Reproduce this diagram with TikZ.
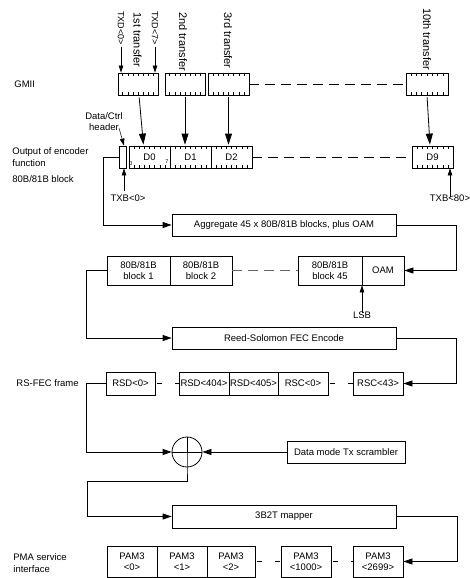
\documentclass[tikz,border=0pt]{standalone}
\usepackage{fontspec}
\setmainfont{Liberation Sans}
\usetikzlibrary{arrows.meta,calc}

\begin{document}
\begin{tikzpicture}[x=1pt,y=-1pt,line width=.8pt,
  every node/.style={font=\fontsize{9.5}{11}\selectfont,inner sep=0pt},
  box/.style={draw,align=center,minimum height=23},
  lbl/.style={anchor=west,align=left},
  vlbl/.style={rotate=-90,anchor=west},
  arr/.style={-{Triangle[length=9pt,width=6pt]}},
  sarr/.style={-{Triangle[length=7pt,width=4.5pt]}},
  darr/.style={-{Triangle[length=11pt,width=7pt]},shorten <=2pt,shorten >=1pt},
  gap/.style={dash pattern=on 10pt off 6pt},
  sgap/.style={dash pattern=on 5pt off 13pt}]
\useasboundingbox (0,0) rectangle (470,578);
\node[lbl] (gmii) at (14,84) {GMII};
\node[box,minimum width=40,minimum height=22] (g1) at (138,84) {};
\node[box,minimum width=40,minimum height=22] (g2) at (185,84) {};
\node[box,minimum width=41,minimum height=22] (g3) at (228.5,84) {};
\node[box,minimum width=42,minimum height=22] (g10) at (427,84) {};
\draw[gap] (g3) -- (g10);
\node[vlbl,font=\fontsize{9}{10}\selectfont] (txd0) at (121,11) {TXD<0>};
\node[vlbl,font=\fontsize{9}{10}\selectfont] (txd7) at (155,11) {TXD<7>};
\node[vlbl,font=\fontsize{11}{12}\selectfont] (t1) at (137.5,12) {1st transfer};
\node[vlbl,font=\fontsize{11}{12}\selectfont] (t2) at (183,12) {2nd transfer};
\node[vlbl,font=\fontsize{11}{12}\selectfont] (t3) at (228,12) {3rd transfer};
\node[vlbl,font=\fontsize{11}{12}\selectfont] (t10) at (427,8) {10th transfer};
\draw[sarr,shorten <=2pt] (txd0.east) -- (txd0.east |- g1.north);
\draw[sarr,shorten <=2pt] (txd7.east) -- (txd7.east |- g1.north);
\node[lbl] (enc1) at (12,157) [align=left] {Output of encoder\\[0.5pt]function};
\node[lbl] (enc2) at (12,179) {80B/81B block};
\node[box,minimum width=7,minimum height=22] (hdr) at (122.5,157) {};
\node[box,minimum width=41,minimum height=22] (d0) at (149.5,157) {D0};
\node[box,minimum width=41,minimum height=22] (d1) at (190.5,157) {D1};
\node[box,minimum width=41,minimum height=22] (d2) at (231.5,157) {D2};
\node[box,minimum width=41,minimum height=22] (d9) at (432.5,157) {D9};
\node[font=\fontsize{5.5}{6}\selectfont] (b0) at (131,163.5) {0};
\node[font=\fontsize{5.5}{6}\selectfont] (b7) at (167,162) {7};
\draw[gap] (d2) -- (d9);
\foreach \b in {g1,g2,g3,g10,d0,d1,d2,d9}
  \foreach \i in {1,...,7}
    \draw[line width=.5pt] ($(\b.north west)!\i/8!(\b.north east)$) -- ++(0,3)
      ($(\b.south west)!\i/8!(\b.south east)$) -- ++(0,-3);
\draw[darr] ([xshift=1]g1.south) -- ([xshift=-6]d0.north);
\draw[darr] (g2.south) -- (g2.south |- d1.north);
\draw[darr] (g3.south) -- (g3.south |- d2.north);
\draw[darr] (g10.south) -- ([xshift=-2.5]d9.north);
\node[align=center] (dch) at (104,122) {Data/Ctrl\\header};
\draw[sarr,line width=.5pt] ([shift={(-4,-3)}]dch.south east) -- ([xshift=1.5]hdr.north);
\node (txb0) at (128,198) {TXB<0>};
\node (txb80) at (450,198) {TXB<80>};
\draw[sarr] ([shift={(-4,-3)}]txb0.north) -- ([xshift=-4]txb0.north |- hdr.south);
\draw[sarr] ([yshift=-3]txb80.north) -- (txb80.north |- d9.south);
\node[box,minimum width=224,minimum height=22] (agg) at (284,225) {Aggregate 45 x 80B/81B blocks, plus OAM};
\draw[arr] (hdr.west) -- ++(-15,0) |- (agg.west);
\node[box,minimum width=63,minimum height=29] (blk1) at (138.5,270.5) {80B/81B\\block 1};
\node[box,minimum width=62,minimum height=29] (blk2) at (201,270.5) {80B/81B\\block 2};
\node[box,minimum width=64,minimum height=29] (blk45) at (330,270.5) {80B/81B\\block 45};
\node[box,minimum width=42,minimum height=29] (oam) at (383,270.5) {OAM};
\draw[gap,black!60] (blk2) -- (blk45);
\draw[arr] (agg.east) -- ++(60,0) |- (oam.east);
\node (lsb) at (362,315) {LSB};
\draw[sarr] ([yshift=-2]lsb.north) -- (lsb.north |- blk45.south);
\node[box,minimum width=224,minimum height=22] (rs) at (284,338) {Reed-Solomon FEC Encode};
\draw[arr] (blk1.west) -- ++(-20,0) |- (rs.west);
\node[lbl] (frm) at (16,383.5) {RS-FEC frame};
\node[box,minimum width=49] (rsd0) at (130.5,383.5) {RSD<0>};
\node[box,minimum width=50] (rsd404) at (204,383.5) {RSD<404>};
\node[box,minimum width=49] (rsd405) at (253.5,383.5) {RSD<405>};
\node[box,minimum width=50] (rsc0) at (303,383.5) {RSC<0>};
\node[box,minimum width=50] (rsc43) at (378,383.5) {RSC<43>};
\draw[sgap,shorten <=1.5pt] (rsd0) -- (rsd404);
\draw[sgap,shorten <=1.5pt] (rsc0) -- (rsc43);
\draw[arr] (rs.east) -- ++(60,0) |- (rsc43.east);
\node[draw,circle,minimum size=30] (xor) at (187,452) {};
\draw (xor.west) -- (xor.east);
\node[box,minimum width=118,minimum height=22] (scr) at (346,452) {Data mode Tx scrambler};
\draw[arr] (rsd0.west) -- ++(-19,0) |- (xor.west);
\draw[arr] (scr.west) -- (xor.east);
\node[box,minimum width=224] (map) at (284,516.5) {3B2T mapper};
\draw[arr] (xor.north) -- (xor.south) -- ++(0,14) -- ++(-100,0) |- (map.west);
\node[lbl,align=left] (pma) at (13,563) {PMA service\\[1pt]interface};
\node[box,minimum width=50,minimum height=31] (p0) at (132,561.5) {PAM3\\<0>};
\node[box,minimum width=50,minimum height=31] (p1) at (182,561.5) {PAM3\\<1>};
\node[box,minimum width=48,minimum height=31] (p2) at (231,561.5) {PAM3\\<2>};
\node[box,minimum width=50,minimum height=31] (p1000) at (306,561.5) {PAM3\\<1000>};
\node[box,minimum width=50,minimum height=31] (p2699) at (378,561.5) {PAM3\\<2699>};
\draw[sgap,shorten <=1.5pt] (p2) -- (p1000);
\draw[sgap,shorten <=1.5pt] (p1000) -- (p2699);
\draw[arr] (map.east) -- ++(61,0) |- (p2699.east);
\end{tikzpicture}
\end{document}
